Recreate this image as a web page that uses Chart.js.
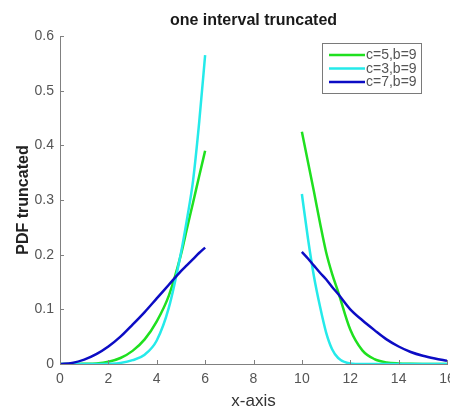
<!DOCTYPE html>
<html>
<head>
<meta charset="utf-8">
<script src="https://cdn.jsdelivr.net/npm/chart.js@4/dist/chart.umd.min.js"></script>
<style>
  html, body { margin: 0; padding: 0; background: #ffffff; overflow: hidden; }
  #wrap { width: 450px; height: 410px; }
</style>
</head>
<body>
<div id="wrap"><canvas id="c" width="450" height="410"></canvas></div>
<script>
// ---- data ----
const chartTitle = "one interval truncated";
const xAxisTitle = "x-axis";
const yAxisTitle = "PDF truncated";
const seriesLabels = ["c=5,b=9", "c=3,b=9", "c=7,b=9"];

const xLeft  = [0, 0.5, 1, 1.5, 2, 2.5, 3, 3.5, 4, 4.5, 5, 5.25, 5.5, 5.75, 6];
const xRight = [10, 10.25, 10.5, 10.75, 11, 11.25, 11.5, 12, 12.5, 13, 13.5, 14, 14.5, 15, 15.5, 16];

const c5Left  = [0, 0, 0.0003, 0.001, 0.004, 0.011, 0.024, 0.045, 0.078, 0.125, 0.2, 0.248, 0.295, 0.343, 0.39];
const c3Left  = [0, 0, 0, 0, 0.0005, 0.002, 0.007, 0.017, 0.043, 0.103, 0.203, 0.265, 0.335, 0.44, 0.565];
const c7Left  = [0, 0.002, 0.008, 0.018, 0.032, 0.05, 0.072, 0.095, 0.12, 0.145, 0.17, 0.181, 0.192, 0.203, 0.213];

const c5Right = [0.425, 0.37, 0.315, 0.258, 0.205, 0.165, 0.132, 0.063, 0.025, 0.009, 0.003, 0.001, 0.0003, 0, 0, 0];
const c3Right = [0.311, 0.23, 0.16, 0.105, 0.058, 0.027, 0.011, 0.001, 0, 0, 0, 0, 0, 0, 0, 0];
const c7Right = [0.205, 0.193, 0.18, 0.167, 0.155, 0.141, 0.128, 0.1, 0.08, 0.062, 0.045, 0.032, 0.022, 0.015, 0.01, 0.006];

const xTicks = [0, 2, 4, 6, 8, 10, 12, 14, 16];
const yTicks = [0, 0.1, 0.2, 0.3, 0.4, 0.5, 0.6];

const colors = ["#1fe01f", "#25eaea", "#0c0cc4"];

// ---- build points (gap between the two intervals) ----
function pts(lx, ly, rx, ry) {
  const out = lx.map((x, i) => ({ x: x, y: ly[i] }));
  out.push({ x: 8, y: null });
  rx.forEach((x, i) => out.push({ x: x, y: ry[i] }));
  return out;
}
const seriesData = [
  pts(xLeft, c5Left, xRight, c5Right),
  pts(xLeft, c3Left, xRight, c3Right),
  pts(xLeft, c7Left, xRight, c7Right)
];

const FONT = "'Liberation Sans', Arial, Helvetica, sans-serif";
const AXIS = "#808080";
const TXT = "#555555";

const inwardTicks = {
  id: "inwardTicks",
  afterDatasetsDraw(chart) {
    const { ctx, chartArea: a, scales } = chart;
    ctx.save();
    ctx.strokeStyle = AXIS;
    ctx.lineWidth = 1;
    ctx.beginPath();
    xTicks.forEach(v => {
      const px = Math.round(scales.x.getPixelForValue(v)) + 0.5;
      ctx.moveTo(px, a.bottom);
      ctx.lineTo(px, a.bottom - 4);
    });
    yTicks.forEach(v => {
      const py = Math.round(scales.y.getPixelForValue(v)) + 0.5;
      ctx.moveTo(a.left, py);
      ctx.lineTo(a.left + 4, py);
    });
    ctx.stroke();
    ctx.restore();
  }
};

const boxLegend = {
  id: "boxLegend",
  afterDraw(chart) {
    const { ctx } = chart;
    const bx = 322, by = 43, bw = 99, bh = 50;
    ctx.save();
    ctx.fillStyle = "#ffffff";
    ctx.fillRect(bx, by, bw, bh);
    ctx.strokeStyle = "#7a7a7a";
    ctx.lineWidth = 1;
    ctx.strokeRect(bx + 0.5, by + 0.5, bw, bh);
    const rows = [55, 68.5, 82];
    ctx.font = "14px " + FONT;
    ctx.textBaseline = "middle";
    ctx.textAlign = "left";
    chart.data.datasets.forEach((ds, i) => {
      ctx.strokeStyle = ds.borderColor;
      ctx.lineWidth = 2.5;
      ctx.beginPath();
      ctx.moveTo(329, rows[i]);
      ctx.lineTo(365, rows[i]);
      ctx.stroke();
      ctx.fillStyle = TXT;
      ctx.fillText(ds.label, 366, rows[i] + 0.5);
    });
    ctx.restore();
  }
};

new Chart(document.getElementById("c"), {
  type: "line",
  data: {
    datasets: seriesData.map((d, i) => ({
      label: seriesLabels[i],
      data: d,
      borderColor: colors[i],
      backgroundColor: colors[i],
      borderWidth: 2.5,
      pointRadius: 0,
      pointHoverRadius: 0,
      fill: false,
      spanGaps: false,
      cubicInterpolationMode: "monotone",
      order: 3 - i
    }))
  },
  options: {
    responsive: false,
    animation: false,
    events: [],
    layout: { padding: { left: 0, right: 3, top: 0, bottom: 0 } },
    plugins: {
      legend: { display: false },
      tooltip: { enabled: false },
      title: {
        display: true,
        text: chartTitle,
        fullSize: false,
        color: "#1a1a1a",
        font: { family: FONT, size: 16, weight: "bold", lineHeight: 1.2 },
        padding: { top: 10.5, bottom: 6.3 }
      }
    },
    scales: {
      x: {
        type: "linear",
        min: 0, max: 16,
        afterBuildTicks: s => { s.ticks = xTicks.map(v => ({ value: v })); },
        afterFit: s => { s.height = 46; s.paddingLeft = 0; s.paddingRight = 0; },
        grid: { display: false, drawTicks: false },
        border: { display: true, color: AXIS, width: 1 },
        ticks: {
          padding: 7,
          color: TXT,
          maxRotation: 0,
          autoSkip: false,
          font: { family: FONT, size: 14 },
          callback: v => String(v)
        },
        title: {
          display: true,
          text: xAxisTitle,
          color: "#333333",
          font: { family: FONT, size: 17, lineHeight: 1.2 },
          padding: { top: 0, bottom: -2 }
        }
      },
      y: {
        type: "linear",
        min: 0, max: 0.6,
        afterBuildTicks: s => { s.ticks = yTicks.map(v => ({ value: v })); },
        afterFit: s => { s.width = 60; s.paddingTop = 0; s.paddingBottom = 0; },
        grid: { display: false, drawTicks: false },
        border: { display: true, color: AXIS, width: 1 },
        ticks: {
          padding: 6,
          color: TXT,
          autoSkip: false,
          font: { family: FONT, size: 14 },
          callback: v => (Math.round(v * 10) / 10).toString()
        },
        title: {
          display: true,
          text: yAxisTitle,
          color: "#222222",
          font: { family: FONT, size: 16, weight: "bold", lineHeight: 1.2 },
          padding: { top: 14, bottom: 0 }
        }
      }
    }
  },
  plugins: [inwardTicks, boxLegend]
});
</script>
</body>
</html>
